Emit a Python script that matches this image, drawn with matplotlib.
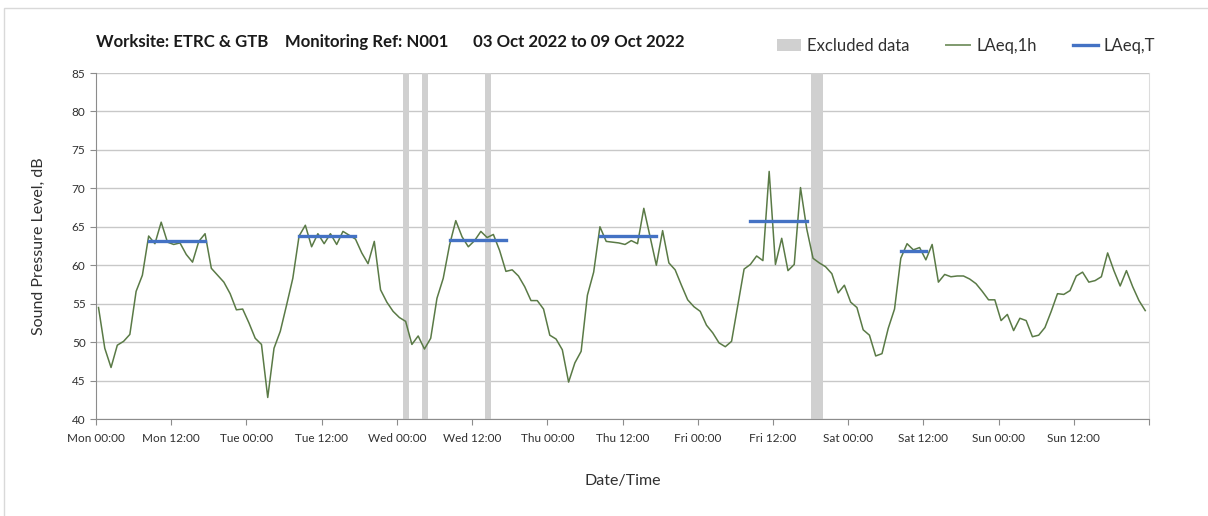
import matplotlib
matplotlib.use("Agg")
import matplotlib.pyplot as plt
import matplotlib.dates as mdates
from matplotlib.patches import Patch, Rectangle
from matplotlib.lines import Line2D
import pandas as pd

plt.rcParams['font.family'] = ['Lato', 'DejaVu Sans']

# ---- data ----
title_text = "Worksite: ETRC & GTB    Monitoring Ref: N001      03 Oct 2022 to 09 Oct 2022"
series_start = "2022-10-03 00:24"
laeq_1h = [
    # Mon
    54.5, 49.2, 46.7, 49.6, 50.1, 51.0, 56.6, 58.7, 63.8, 62.8, 65.6, 63.0,
    62.7, 62.9, 61.4, 60.4, 63.1, 64.1, 59.6, 58.7, 57.8, 56.3, 54.2, 54.3,
    # Tue
    52.5, 50.5, 49.7, 42.8, 49.2, 51.4, 54.8, 58.3, 63.8, 65.2, 62.4, 64.1,
    62.8, 64.1, 62.7, 64.4, 63.9, 63.4, 61.6, 60.2, 63.1, 56.8, 55.2, 54.0,
    # Wed
    53.2, 52.7, 49.7, 50.8, 49.1, 50.5, 55.7, 58.3, 62.6, 65.8, 63.7, 62.4,
    63.2, 64.4, 63.6, 64.0, 61.9, 59.2, 59.4, 58.6, 57.2, 55.4, 55.4, 54.3,
    # Thu
    50.9, 50.4, 49.0, 44.8, 47.3, 48.8, 56.1, 59.1, 65.0, 63.1, 63.0, 62.9,
    62.7, 63.2, 62.8, 67.4, 63.7, 60.0, 64.5, 60.3, 59.4, 57.4, 55.5, 54.6,
    # Fri
    54.0, 52.2, 51.2, 49.9, 49.4, 50.1, 54.8, 59.5, 60.1, 61.2, 60.6, 72.2,
    60.1, 63.5, 59.3, 60.1, 70.1, 64.7, 60.9, 60.3, 59.8, 58.9, 56.4, 57.4,
    # Sat
    55.2, 54.5, 51.6, 50.9, 48.2, 48.5, 51.8, 54.3, 60.9, 62.8, 62.0, 62.3,
    60.7, 62.7, 57.8, 58.8, 58.5, 58.6, 58.6, 58.2, 57.6, 56.6, 55.5, 55.5,
    # Sun
    52.8, 53.6, 51.5, 53.1, 52.8, 50.7, 50.9, 51.9, 54.0, 56.3, 56.2, 56.7,
    58.6, 59.1, 57.8, 58.0, 58.5, 61.6, 59.3, 57.3, 59.3, 57.2, 55.4, 54.1,
]
laeq_t_start = ["2022-10-03 08:24", "2022-10-04 08:24", "2022-10-05 08:24",
                "2022-10-06 08:24", "2022-10-07 08:24", "2022-10-08 08:24"]
laeq_t_end = ["2022-10-03 17:24", "2022-10-04 17:24", "2022-10-05 17:24",
              "2022-10-06 17:24", "2022-10-07 17:24", "2022-10-08 12:24"]
laeq_t_value = [63.2, 63.75, 63.3, 63.75, 65.7, 61.8]
excluded_start = ["2022-10-05 01:00", "2022-10-05 04:00", "2022-10-05 14:00", "2022-10-07 18:00"]
excluded_end = ["2022-10-05 02:00", "2022-10-05 05:00", "2022-10-05 15:00", "2022-10-07 20:00"]
x_min, x_max = "2022-10-03 00:00", "2022-10-10 00:00"
y_ticks = [40, 45, 50, 55, 60, 65, 70, 75, 80, 85]

# ---- figure ----
fig = plt.figure(figsize=(12.08, 5.16), dpi=100)
ax = fig.add_axes([96 / 1208, 1 - 419 / 516, (1149 - 96) / 1208, (419 - 73) / 516])

# outer chart border
fig.patches.append(Rectangle((4 / 1208, -0.1), 1.2, 1 - 8 / 516 + 0.1,
                             transform=fig.transFigure, fill=False,
                             edgecolor='#d9d9d9', linewidth=1))

times = pd.date_range(series_start, periods=len(laeq_1h), freq="h")

grey = '#d0d0d0'
for s, e in zip(excluded_start, excluded_end):
    ax.axvspan(pd.Timestamp(s), pd.Timestamp(e), color=grey, linewidth=0, zorder=1)

ax.plot(times, laeq_1h, color='#5a7a46', linewidth=1.1, zorder=3)

for s, e, v in zip(laeq_t_start, laeq_t_end, laeq_t_value):
    ax.plot([pd.Timestamp(s), pd.Timestamp(e)], [v, v], color='#4472C4',
            linewidth=2.4, solid_capstyle='projecting', zorder=4)

ax.set_xlim(pd.Timestamp(x_min), pd.Timestamp(x_max))
ax.set_ylim(40, 85)
ax.set_yticks(y_ticks)

ax.xaxis.set_major_locator(mdates.HourLocator(byhour=[0, 12]))
_fmt = mdates.DateFormatter('%a %H:%M')
_xmax_num = mdates.date2num(pd.Timestamp(x_max))
ax.xaxis.set_major_formatter(
    plt.FuncFormatter(lambda v, p: '' if v >= _xmax_num - 1e-6 else _fmt(v, p)))
ax.xaxis.set_minor_locator(mdates.DayLocator())

ax.grid(False)
ax.yaxis.grid(True, color='#c8c8c8', linewidth=1)
ax.xaxis.grid(True, which='minor', color='#dcdcdc', linewidth=1)
ax.set_axisbelow(True)

ax.spines['top'].set_visible(False)
ax.spines['right'].set_color('#dcdcdc')
ax.spines['left'].set_color('#8c8c8c')
ax.spines['bottom'].set_color('#8c8c8c')
ax.tick_params(axis='both', which='major', length=4, color='#8c8c8c',
               labelsize=8.5, labelcolor='#303030')
ax.tick_params(axis='x', which='minor', length=0)
ax.tick_params(axis='x', which='major', pad=6)

ax.set_ylabel("Sound Pressure Level, dB", fontsize=11.5, color='#303030', labelpad=19)
ax.set_xlabel("Date/Time", fontsize=11.5, color='#303030', labelpad=22)

fig.text(96 / 1208, 1 - 42 / 516, title_text, fontsize=12.1, fontweight='bold',
         color='#1a1a1a', va='center', ha='left')

handles = [Patch(facecolor=grey, edgecolor='none'),
           Line2D([0], [0], color='#7f9a6e', linewidth=1.4),
           Line2D([0], [0], color='#4472C4', linewidth=2.4)]
fig.legend(handles, ["Excluded data", "LAeq,1h", "LAeq,T"], ncol=3,
           loc='center left', bbox_to_anchor=(762 / 1208, 1 - 46 / 516),
           frameon=False, fontsize=12, handlelength=1.45, handletextpad=0.35,
           columnspacing=2.2, labelcolor='#303030')

fig.savefig("out.png", dpi=100)
